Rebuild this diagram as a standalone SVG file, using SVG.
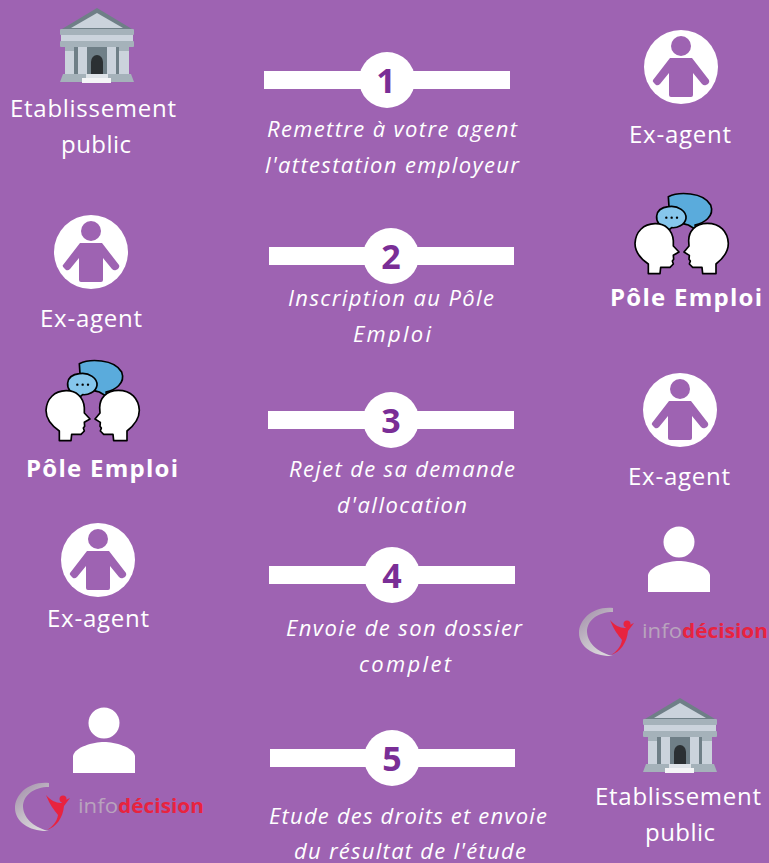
<svg xmlns="http://www.w3.org/2000/svg" xmlns:xlink="http://www.w3.org/1999/xlink" width="769" height="863" viewBox="0 0 769 863">
<style>
text{font-family:"Open Sans","Noto Sans","Liberation Sans",sans-serif;fill:#fff}
.lab{font-size:24px;text-anchor:middle}
.b{font-size:24px;font-weight:700;text-anchor:middle}
.d{font-size:22px;font-style:italic;text-anchor:middle}
.n{font-size:34px;font-weight:700;fill:#7a2e96;text-anchor:middle}
.bar{fill:#fff}
.logo{font-size:20px;text-anchor:start}
</style>
<defs>
<linearGradient id="sw" x1="0" y1="0" x2="0.6" y2="1"><stop offset="0" stop-color="#a08aa8"/><stop offset="0.6" stop-color="#c3bcc6"/><stop offset="1" stop-color="#d9d4da"/></linearGradient>
<g id="bank">
<path d="M62 29L97 8L132 29Z" fill="#6f7f87"/><path d="M71 28L97 13L123 28Z" fill="#cbd3dc"/>
<rect x="60" y="29" width="74" height="6" rx="1" fill="#a5b2ba"/>
<rect x="61" y="35" width="72" height="6" fill="#cbd3dc"/>
<rect x="60" y="41" width="74" height="6" rx="1" fill="#a5b2ba"/>
<rect x="65" y="47" width="64" height="28" fill="#cbd3dc"/>
<rect x="74" y="47" width="4" height="27" fill="#6f7f87"/><rect x="116" y="47" width="3" height="27" fill="#6f7f87"/>
<rect x="65" y="47" width="9" height="4" fill="#a5b2ba"/><rect x="119" y="47" width="10" height="4" fill="#a5b2ba"/>
<rect x="87" y="47" width="20" height="28" fill="#6f7f87"/>
<path d="M91 75V62a6 7 0 0 1 12 0V75Z" fill="#2b3033"/>
<path d="M63 74H131L134 82H60Z" fill="#a5b2ba"/>
<rect x="86" y="74" width="22" height="5" fill="#dfe4e9"/>
<rect x="82" y="78" width="29" height="5" fill="#f4f5f7"/>
</g>
<g id="agent">
<circle cx="0" cy="0" r="37" fill="#fff"/>
<circle cx="0" cy="-21" r="10" fill="#9e63b2"/>
<path d="M-11 -9H11L28 13Q29 15 27 17L25 18Q23 19 21 17L12 6V28Q12 30 10 30H-10Q-12 30 -12 28V6L-21 17Q-23 19 -25 18L-27 16Q-29 14 -28 13Z" fill="#9e63b2"/>
</g>
<g id="pole">
<g transform="translate(620,180) scale(.33333)" stroke="#000" stroke-width="5" stroke-linejoin="round">
<path d="M145 50C175 35 250 35 272 75C285 110 250 130 225 135L230 150L205 135C180 130 150 115 147 80Z" fill="#5aabdc"/>
<path d="M145 80C175 75 200 95 198 115C195 135 170 145 155 143L143 153L138 143C120 140 108 125 110 108C112 92 125 82 145 80Z" fill="#86c6ec"/>
<path d="M85 281L85 252C60 235 45 215 45 190C47 155 70 132 105 131C135 130 158 150 160 182L160 198L177 216L160 226L161 238L157 243L160 252L150 262H122L120 281Z" fill="#fff"/>
<path d="M288 281L288 252C310 235 325 215 325 190C323 155 300 130 262 130C225 130 206 155 206 182L207 198L192 216L208 226L207 238L211 243L208 252L218 262H246L248 281Z" fill="#fff"/>
<circle cx="139" cy="113" r="3.5" fill="#000" stroke="none"/><circle cx="155" cy="113" r="3.5" fill="#000" stroke="none"/><circle cx="171" cy="113" r="3.5" fill="#000" stroke="none"/>
</g>
</g>
<g id="user">
<circle cx="679" cy="542" r="15.5" fill="#fff"/>
<path d="M648 592V575C650 566 668 561 679 561C690 561 708 566 710 575V592Z" fill="#fff"/>
</g>
<g id="logo">
<path d="M613 608C592 606 579 620 579 633C579 647 594 657 613 656C600 653 588 645 587 632C587 620 598 612 613 612Z" fill="url(#sw)"/>
<path d="M610 620C614 630 618 635 622 640C621 647 616 652 611 655C620 652 627 643 628 631L634 623C631 624 628 626 625 628C620 628 614 625 610 620Z" fill="#e8233f"/>
<circle cx="627" cy="624" r="3.5" fill="#e8233f"/>
<text class="logo" x="642" y="638" style="fill:#b9a3bd" textLength="40" lengthAdjust="spacingAndGlyphs">info</text>
<text class="logo" x="682" y="638" style="fill:#e8233f;font-weight:700" textLength="86" lengthAdjust="spacingAndGlyphs">décision</text>
</g>
</defs>
<rect width="769" height="863" fill="#9e63b2"/>
<g id="connectors">
<rect class="bar" x="264" y="71" width="246" height="18"/>
<rect class="bar" x="269" y="247" width="245" height="18"/>
<rect class="bar" x="268" y="411" width="246" height="18"/>
<rect class="bar" x="269" y="566" width="246" height="18"/>
<rect class="bar" x="270" y="749" width="245" height="18"/>
</g>
<g id="etape1"><circle cx="387" cy="80" r="28" fill="#fff"/><text class="n" x="386" y="93">1</text>
<text class="d" x="392" y="137" textLength="250">Remettre à votre agent</text><text class="d" x="392" y="173" textLength="254">l'attestation employeur</text></g>
<g id="etape2"><circle cx="391" cy="256" r="28" fill="#fff"/><text class="n" x="391" y="269">2</text>
<text class="d" x="391" y="306" textLength="206">Inscription au Pôle</text><text class="d" x="392" y="342" textLength="78">Emploi</text></g>
<g id="etape3"><circle cx="391" cy="420" r="28" fill="#fff"/><text class="n" x="391" y="433">3</text>
<text class="d" x="402" y="477" textLength="226">Rejet de sa demande</text><text class="d" x="402" y="513" textLength="130">d'allocation</text></g>
<g id="etape4"><circle cx="392" cy="575" r="28" fill="#fff"/><text class="n" x="392" y="588">4</text>
<text class="d" x="404" y="636" textLength="236">Envoie de son dossier</text><text class="d" x="405" y="672" textLength="92">complet</text></g>
<g id="etape5"><circle cx="392" cy="758" r="28" fill="#fff"/><text class="n" x="392" y="771">5</text>
<text class="d" x="408" y="824" textLength="278">Etude des droits et envoie</text><text class="d" x="410" y="859" textLength="232">du résultat de l'étude</text></g>
<g id="etablissement1"><use href="#bank"/><text class="lab" x="93" y="117" textLength="166">Etablissement</text><text class="lab" x="96" y="153" textLength="70">public</text></g>
<g id="agent1"><use href="#agent" x="681" y="67"/><text class="lab" x="680" y="143" textLength="102">Ex-agent</text></g>
<g id="agent2"><use href="#agent" x="91" y="252"/><text class="lab" x="91" y="327" textLength="102">Ex-agent</text></g>
<g id="pole1"><use href="#pole"/><text class="b" x="686" y="306" textLength="152">Pôle Emploi</text></g>
<g id="pole2"><use href="#pole" x="-589" y="167"/><text class="b" x="102" y="477" textLength="152">Pôle Emploi</text></g>
<g id="agent3"><use href="#agent" x="680" y="410"/><text class="lab" x="679" y="485" textLength="102">Ex-agent</text></g>
<g id="agent4"><use href="#agent" x="98" y="560"/><text class="lab" x="98" y="627" textLength="102">Ex-agent</text></g>
<g id="infodecision1"><use href="#user"/><use href="#logo"/></g>
<g id="infodecision2"><use href="#user" x="-575" y="181"/><use href="#logo" x="-564" y="175"/></g>
<g id="etablissement2"><use href="#bank" x="583" y="690"/><text class="lab" x="678" y="805" textLength="166">Etablissement</text><text class="lab" x="680" y="841" textLength="70">public</text></g>
</svg>
